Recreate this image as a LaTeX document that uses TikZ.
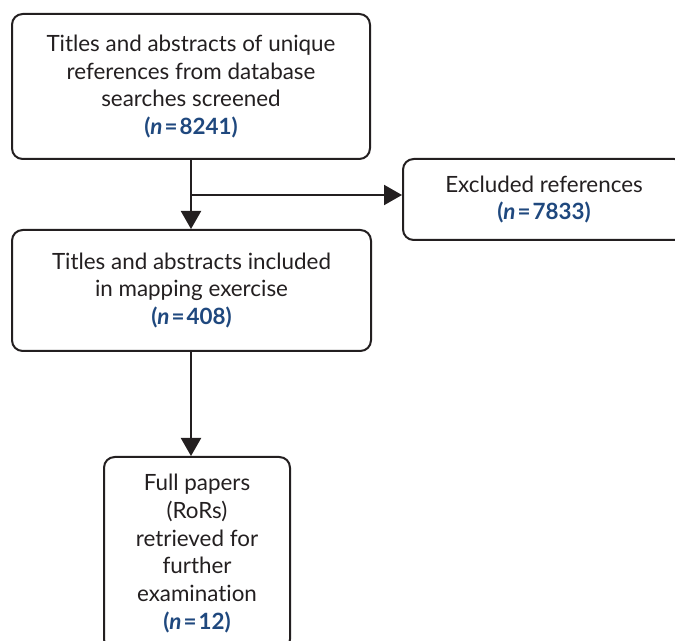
\documentclass[tikz,border=0pt]{standalone}
\usepackage{fontspec}
\setmainfont[Ligatures=NoCommon]{Lato}
\usetikzlibrary{arrows.meta}
\definecolor{nblue}{RGB}{31,72,126}
\definecolor{lineg}{RGB}{35,31,32}
\newcommand{\ncount}[1]{{\color{nblue}\bfseries(\textit{n}\kern1.5pt=\kern1.5pt#1)}}
\begin{document}
\begin{tikzpicture}[x=0.75pt,y=-0.75pt]
	\tikzstyle{box}=[draw=lineg,line width=1.5pt,rounded corners=8pt,align=center,inner sep=0pt,
		font=\fontsize{16.8}{20.9}\selectfont,text=lineg]
	\tikzstyle{arr}=[draw=lineg,line width=1.5pt,-{Triangle[width=15pt,length=13.5pt]}]
	\clip (0,0) rectangle (675,641);
	\useasboundingbox (0,0) rectangle (675,641);
	\node [box,minimum width=358*0.75pt,minimum height=145*0.75pt] (titles) at (191,86.5)
		{Titles and abstracts of unique\\references from database\\searches screened\\\ncount{8241}};
	\node [box,minimum width=282*0.75pt,minimum height=81*0.75pt] (excluded) at (544,199.5)
		{Excluded references\\\ncount{7833}};
	\node [box,minimum width=359*0.75pt,minimum height=121*0.75pt] (included) at (191.5,290.5)
		{Titles and abstracts included\\in mapping exercise\\\ncount{408}};
	\node [box,minimum width=186*0.75pt,minimum height=193*0.75pt] (full) at (197,553.5)
		{Full papers\\(RoRs)\\retrieved for\\further\\examination\\\ncount{12}};
	\coordinate (branch) at (191,195);
	\draw [arr] (titles.south -| branch) -- (included.north -| branch);
	\draw [arr] (branch) -- (branch -| excluded.west);
	\draw [arr] (included.south -| branch) -- (full.north -| branch);
\end{tikzpicture}
\end{document}
